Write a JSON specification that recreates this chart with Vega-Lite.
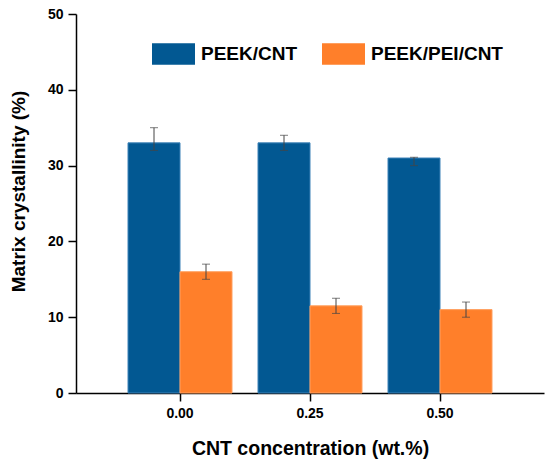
{
  "$schema": "https://vega.github.io/schema/vega-lite/v6.json",
  "width": 468,
  "height": 379,
  "autosize": {"type": "none"},
  "padding": {"left": 76, "top": 14, "right": 6, "bottom": 72},
  "background": "white",
  "data": {
    "values": [
      {"conc": "0.00", "series": "PEEK/CNT", "value": 33, "lo": 32, "hi": 35},
      {"conc": "0.00", "series": "PEEK/PEI/CNT", "value": 16, "lo": 15, "hi": 17},
      {"conc": "0.25", "series": "PEEK/CNT", "value": 33, "lo": 32, "hi": 34},
      {"conc": "0.25", "series": "PEEK/PEI/CNT", "value": 11.5, "lo": 10.5, "hi": 12.5},
      {"conc": "0.50", "series": "PEEK/CNT", "value": 31, "lo": 30, "hi": 31.1},
      {"conc": "0.50", "series": "PEEK/PEI/CNT", "value": 11, "lo": 10, "hi": 12}
    ]
  },
  "encoding": {
    "x": {
      "field": "conc",
      "type": "nominal",
      "scale": {"paddingInner": 0.2, "paddingOuter": 0.4},
      "axis": {
        "title": "CNT concentration (wt.%)",
        "labelAngle": 0,
        "labelPadding": 5,
        "tickSize": 8,
        "titleY": 61,
        "titleBaseline": "alphabetic",
        "titleFontSize": 19.5
      }
    },
    "xOffset": {
      "field": "series",
      "type": "nominal",
      "scale": {"paddingInner": 0, "paddingOuter": 0}
    }
  },
  "layer": [
    {
      "mark": {"type": "bar", "strokeWidth": 1},
      "encoding": {
        "y": {
          "field": "value",
          "type": "quantitative",
          "scale": {"domain": [0, 50], "nice": false},
          "axis": {
            "title": "Matrix crystallinity (%)",
            "values": [0, 5, 10, 15, 20, 25, 30, 35, 40, 45, 50],
            "labelExpr": "datum.value % 10 === 0 ? datum.label : ''",
            "tickSize": {"condition": {"test": "datum.value % 10 === 0", "value": 8}, "value": 4},
            "labelPadding": 5,
            "titleX": -52,
            "titleY": 177,
            "titleBaseline": "alphabetic"
          }
        },
        "color": {
          "field": "series",
          "type": "nominal",
          "scale": {"domain": ["PEEK/CNT", "PEEK/PEI/CNT"], "range": ["#025892", "#FF7F2A"]},
          "legend": {
            "title": null,
            "orient": "none",
            "direction": "horizontal",
            "legendX": 76,
            "legendY": 18,
            "padding": 0,
            "symbolType": "M-1,-0.5H1V0.5H-1Z",
            "symbolSize": 1849,
            "symbolStrokeWidth": 0,
            "symbolOpacity": 1,
            "labelOffset": 6,
            "columnPadding": 24,
            "labelFontSize": 19,
            "labelFont": "Liberation Sans",
            "labelFontWeight": "bold",
            "labelColor": "black"
          }
        },
        "stroke": {
          "field": "series",
          "type": "nominal",
          "scale": {"domain": ["PEEK/CNT", "PEEK/PEI/CNT"], "range": ["#3d82b8", "#ffa060"]},
          "legend": null
        }
      }
    },
    {
      "mark": {"type": "rule", "color": "#444444", "strokeWidth": 1},
      "encoding": {
        "y": {"field": "lo", "type": "quantitative"},
        "y2": {"field": "hi"}
      }
    },
    {
      "mark": {"type": "tick", "color": "#444444", "thickness": 1, "size": 8},
      "encoding": {
        "y": {"field": "lo", "type": "quantitative"}
      }
    },
    {
      "mark": {"type": "tick", "color": "#444444", "thickness": 1, "size": 8},
      "encoding": {
        "y": {"field": "hi", "type": "quantitative"}
      }
    }
  ],
  "config": {
    "view": {"stroke": null},
    "font": "Liberation Sans",
    "axis": {
      "grid": false,
      "domainColor": "black",
      "domainWidth": 1.5,
      "tickColor": "black",
      "tickWidth": 1.5,
      "labelFont": "Liberation Sans",
      "labelFontSize": 14,
      "labelFontWeight": "bold",
      "labelColor": "black",
      "titleFont": "Liberation Sans",
      "titleFontSize": 19,
      "titleFontWeight": "bold",
      "titleColor": "black"
    }
  }
}
